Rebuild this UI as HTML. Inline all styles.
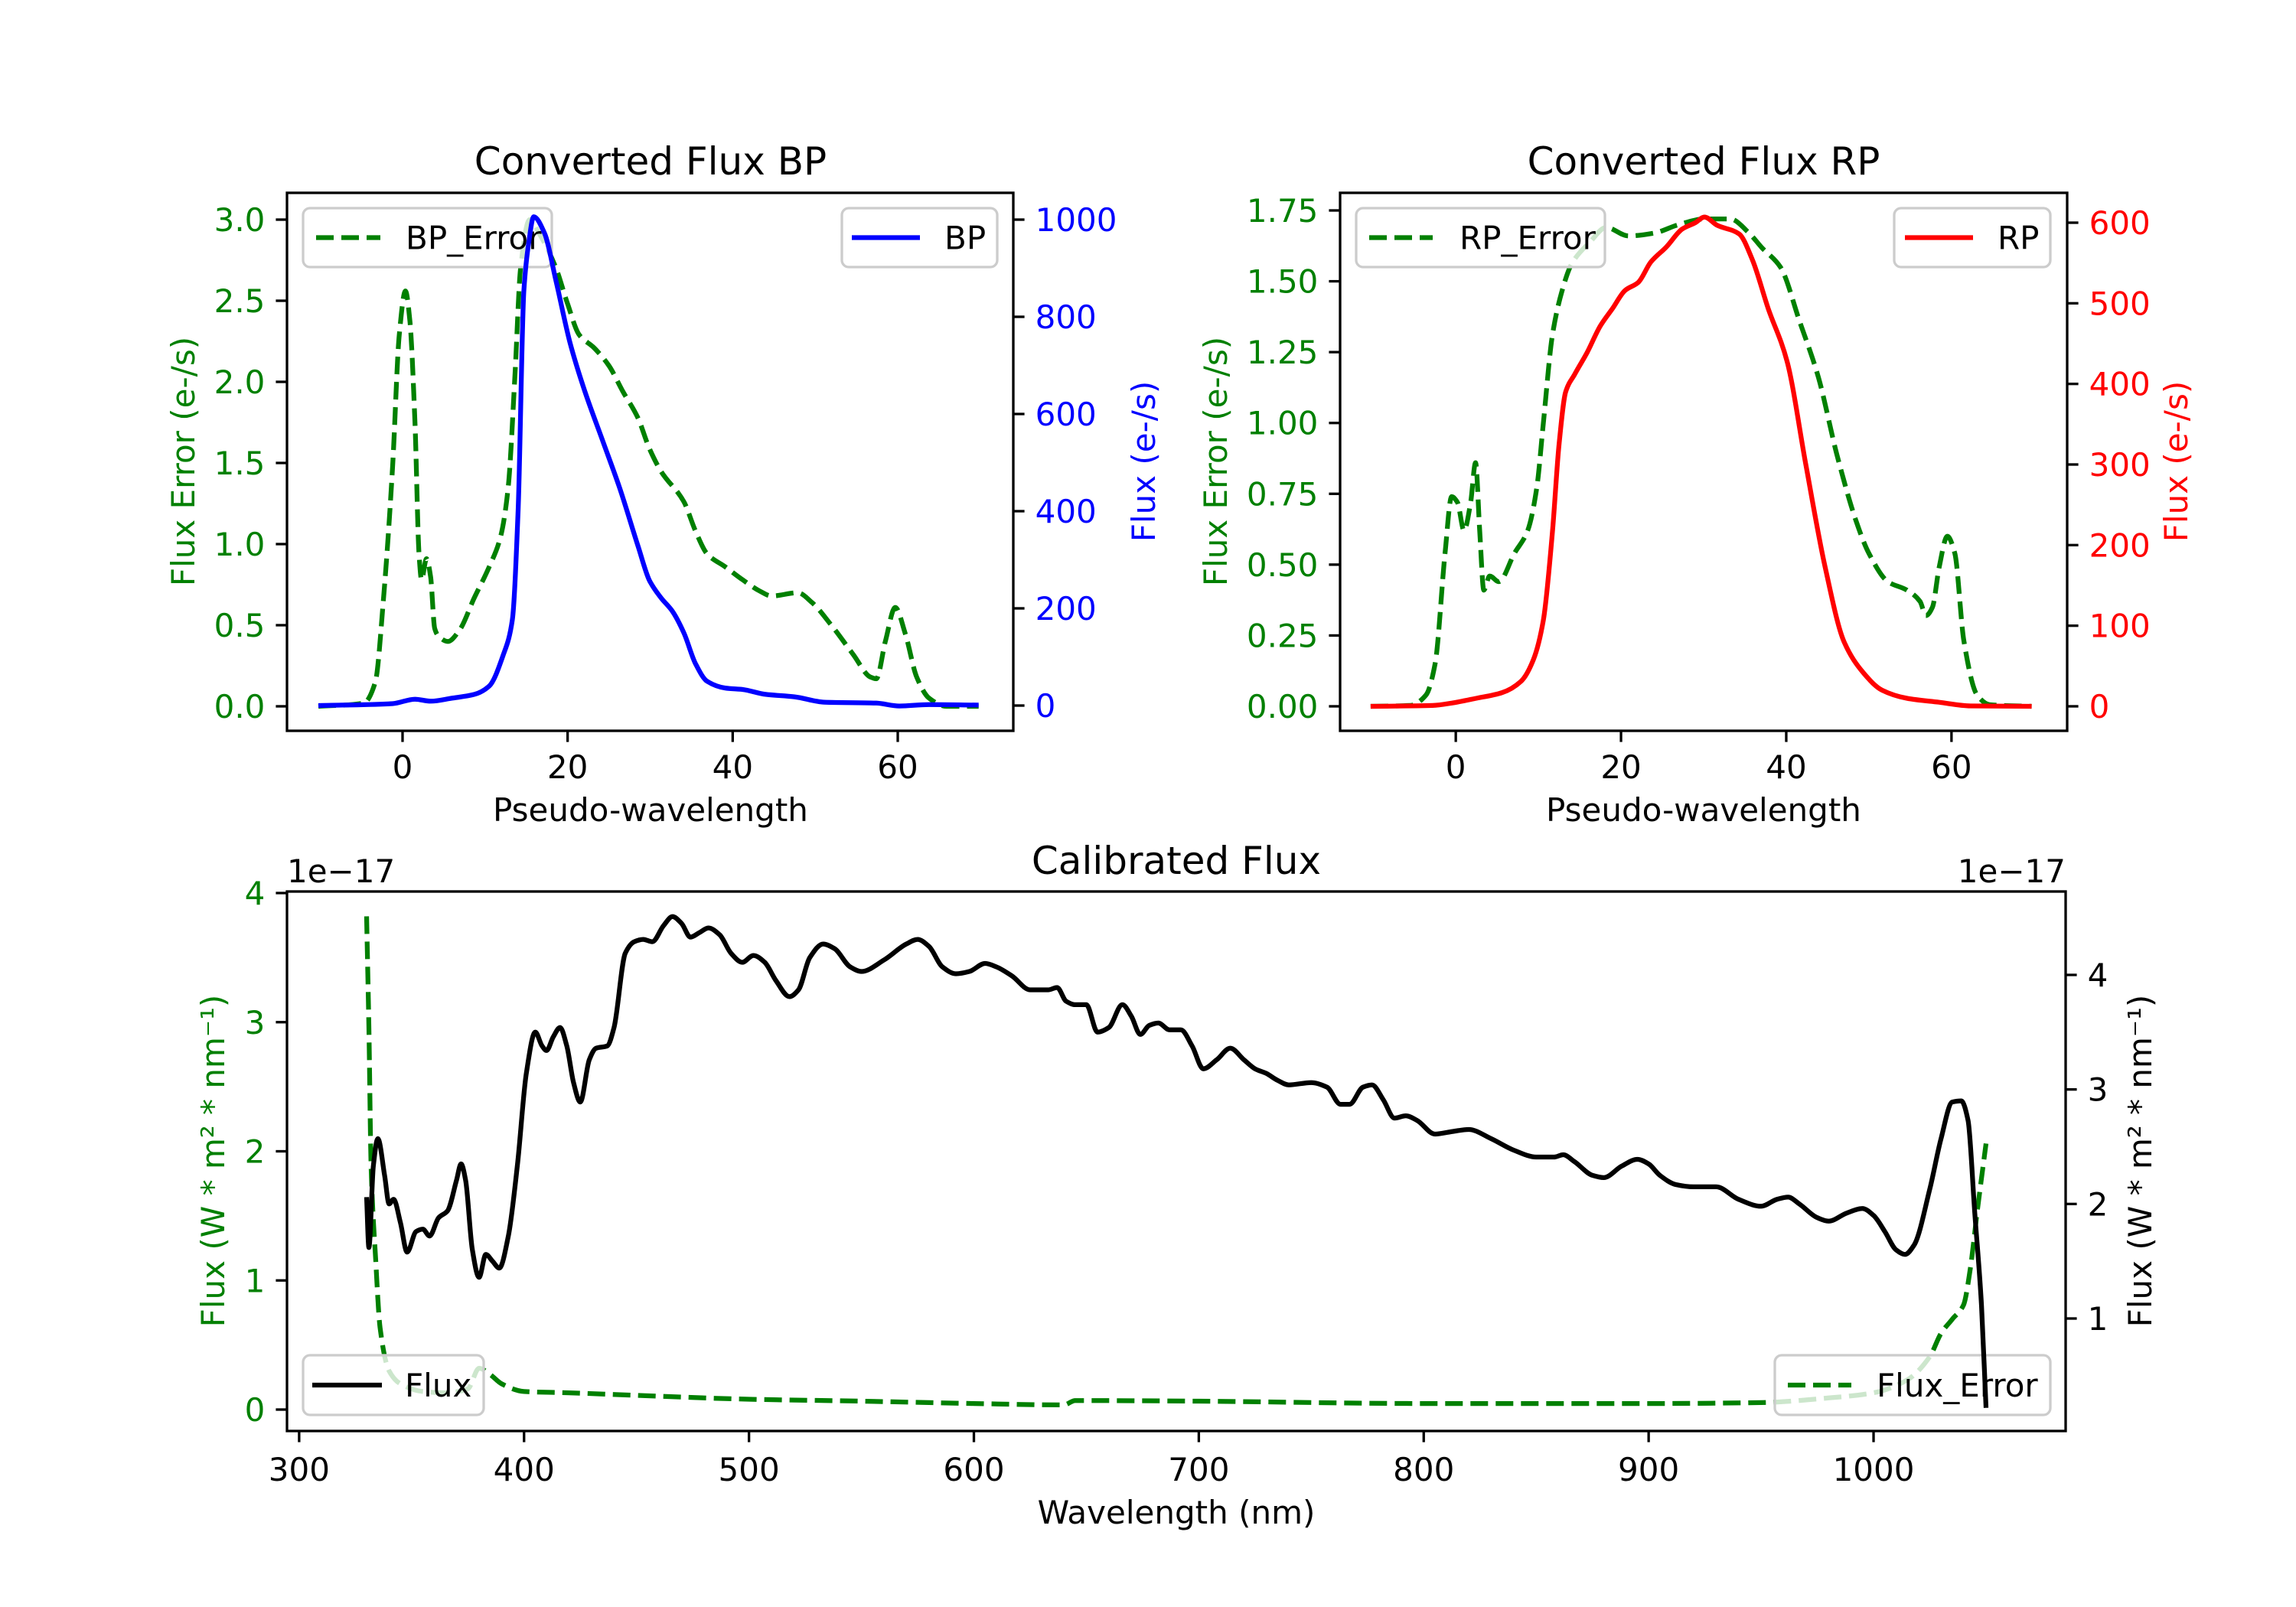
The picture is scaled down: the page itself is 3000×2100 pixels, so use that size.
<!DOCTYPE html>
<html><head><meta charset="utf-8"><style>
html,body{margin:0;padding:0;background:#fff;}
svg{display:block;font-family:"DejaVu Sans","Liberation Sans",sans-serif;}
</style></head><body>
<svg id="fig" width="3000" height="2100" viewBox="0 0 3000 2100" xmlns="http://www.w3.org/2000/svg">
<rect width="3000" height="2100" fill="#fff"/>
</svg>
<script>
// ---- BP panel data ----
const bpX = [-10.2,-1.2,1.5,3.4,5.9,8.7,10.5,12.2,13.3,14.0,14.7,15.3,15.9,17.2,18.6,20.3,22.1,24.2,26.3,28.5,29.9,31.3,32.7,34.1,35.5,36.9,39.1,41.2,44,47.5,51.1,57.4,60.2,63.8,69.8];
const bpFlux = [0,4,13,9,15,23,40,104,176,402,854,954,1006,972,873,746,646,547,448,330,258,222,194,149,86,50,36,33,23,18,7,5,-1,2,1];
const bpErrX = [-10.2,-4.7,-3.3,-2.3,-1.2,-0.4,0.35,0.9,1.5,2.0,2.3,2.9,3.4,3.9,4.4,5.5,6.9,8.7,10.5,11.9,12.8,13.6,14.3,15.4,16.5,18.6,20.0,21.4,23.2,25.0,26.7,28.5,29.9,31.3,34.1,35.5,36.9,39.1,41.2,43.3,44.7,47.9,49.6,51.8,54.6,56.7,57.4,58.5,59.7,60.9,62.3,63.8,65.9,69.8];
const bpErr = [0,0.02,0.15,0.67,1.48,2.29,2.56,2.37,1.75,0.94,0.78,0.91,0.80,0.48,0.43,0.40,0.47,0.67,0.86,1.05,1.35,2.02,2.70,3.0,2.92,2.70,2.48,2.29,2.21,2.10,1.94,1.78,1.59,1.45,1.26,1.08,0.94,0.86,0.78,0.71,0.68,0.70,0.64,0.51,0.32,0.18,0.17,0.40,0.61,0.45,0.18,0.05,0,0];
// ---- RP panel data ----
const rpX = [-10.3,-2.8,-0.5,2.5,5.6,7.9,9.4,10.6,11.7,12.5,13.3,14.4,15.9,17.5,19.0,20.5,22.1,23.6,25.5,27.4,29.0,30.1,31.6,34.3,35.9,37.8,40.1,42.4,44.7,47.0,49.3,51.6,54.6,58.5,62.3,69.7];
const rpFlux = [0,1,4,10,17,31,58,107,216,325,390,412,439,472,494,516,526,551,570,592,600,607,597,586,554,494,428,298,173,80,42,20,10,5,0.5,0];
const rpErrX = [-10.3,-5.5,-3.6,-2.5,-1.3,-0.5,0.2,1.0,1.8,2.4,2.9,3.4,4.1,5.2,7.1,8.7,9.8,10.6,11.7,12.9,14.0,16.3,18.2,20.9,24.0,27.0,30.1,33.2,35.5,37.0,39.3,41.6,43.9,46.2,48.5,50.0,52.3,54.6,56.2,56.9,57.7,58.5,59.5,60.4,61.5,63.1,64.6,69.7];
const rpErr = [0,0.003,0.04,0.15,0.54,0.74,0.72,0.62,0.72,0.86,0.62,0.41,0.46,0.44,0.54,0.62,0.77,1.0,1.31,1.47,1.56,1.64,1.69,1.66,1.67,1.70,1.72,1.72,1.67,1.62,1.55,1.36,1.16,0.88,0.65,0.54,0.44,0.41,0.37,0.32,0.35,0.49,0.60,0.54,0.23,0.04,0.006,0];
// ---- Calibrated panel data (units of 1e-17) ----
const calWl = [330,331,333,335,338,340,342,345,348,352,355,358,362,366,370,372,374,377,380,383,386,389,393,397,401,405,408,410,413,416,419,422,425,429,432,437,440,445,449,453,457,462,466,470,474,478,482,487,492,497,502,507,512,518,522,527,533,538,545,550,560,570,575,580,586,592,598,605,610,617,625,633,637,641,645,650,655,660,666,670,674,678,682,687,692,697,702,708,714,720,725,730,735,740,750,757,763,767,773,777,782,787,792,797,805,812,820,830,840,850,858,862,867,875,880,888,895,900,905,912,920,930,940,950,957,962,967,975,980,988,995,1000,1005,1010,1014,1018,1025,1030,1035,1039,1042,1045,1048,1050];
const calFlux = [2.06,1.62,2.33,2.57,2.25,2.00,2.04,1.84,1.58,1.76,1.78,1.72,1.88,1.94,2.21,2.35,2.21,1.60,1.36,1.56,1.50,1.44,1.72,2.33,3.14,3.50,3.38,3.34,3.46,3.54,3.38,3.06,2.89,3.26,3.36,3.38,3.54,4.19,4.29,4.31,4.29,4.43,4.51,4.45,4.33,4.37,4.41,4.35,4.19,4.11,4.17,4.11,3.95,3.81,3.87,4.15,4.27,4.23,4.07,4.03,4.13,4.27,4.31,4.25,4.07,4.01,4.03,4.10,4.07,3.99,3.87,3.87,3.89,3.77,3.74,3.74,3.50,3.54,3.74,3.64,3.48,3.56,3.58,3.52,3.52,3.38,3.18,3.26,3.36,3.26,3.18,3.14,3.08,3.04,3.06,3.02,2.87,2.87,3.02,3.04,2.91,2.75,2.77,2.73,2.61,2.63,2.65,2.57,2.47,2.41,2.41,2.43,2.37,2.25,2.23,2.33,2.39,2.35,2.25,2.17,2.15,2.15,2.04,1.98,2.04,2.06,2.00,1.88,1.85,1.92,1.96,1.90,1.76,1.60,1.56,1.64,2.13,2.57,2.89,2.90,2.73,1.92,1.11,0.22];
const errWl = [330,331,332,334,336,340,345,355,365,375,380,385,390,400,420,450,500,550,600,640,645,700,800,900,950,980,1000,1015,1025,1030,1035,1040,1043,1046,1050];
const calErr = [3.82,2.96,1.88,1.17,0.63,0.30,0.20,0.14,0.13,0.16,0.32,0.27,0.20,0.14,0.13,0.11,0.08,0.065,0.047,0.036,0.07,0.065,0.047,0.047,0.054,0.09,0.13,0.23,0.41,0.59,0.70,0.81,1.09,1.52,2.06];
// ---- tick labels ----
const bpXTicks = [0,20,40,60];
const bpErrTicks = ["0.0","0.5","1.0","1.5","2.0","2.5","3.0"];
const bpFluxTicks = [0,200,400,600,800,1000];
const rpErrTicks = ["0.00","0.25","0.50","0.75","1.00","1.25","1.50","1.75"];
const rpFluxTicks = [0,100,200,300,400,500,600];
const calXTicks = [300,400,500,600,700,800,900,1000];
const calErrTicks = [0,1,2,3,4];
const calFluxTicks = [1,2,3,4];

const NS = "http://www.w3.org/2000/svg";
const fig = document.getElementById('fig');
function el(tag, attrs, parent, text){
  const e = document.createElementNS(NS, tag);
  for (const k in attrs) e.setAttribute(k, attrs[k]);
  if (text !== undefined) e.textContent = text;
  (parent||fig).appendChild(e);
  return e;
}
function lin(d0,d1,p0,p1){ return v => p0 + (v-d0)*(p1-p0)/(d1-d0); }
const LW = 6.25, DASH = "23 10", TL = 14.6, TW = 3.3, FS = 42;

function panel(name, box){
  const g = el('g', {});
  
  
  const cp = name + '-clip';
  const c = el('clipPath', {id: cp}, g);
  el('rect', {x: box.l, y: box.t, width: box.r-box.l, height: box.b-box.t}, c);
  return {g, cp};
}
// monotone cubic (Fritsch-Carlson) path in pixel space
function smoothPath(px, py){
  const n = px.length;
  if (n < 3){ let d=''; for(let i=0;i<n;i++) d+=(i?'L':'M')+px[i]+','+py[i]; return d; }
  const dx=[], s=[];
  for (let i=0;i<n-1;i++){ dx.push(px[i+1]-px[i]); s.push((py[i+1]-py[i])/(px[i+1]-px[i]||1e-9)); }
  const m=new Array(n);
  m[0]=s[0]; m[n-1]=s[n-2];
  for (let i=1;i<n-1;i++){
    if (s[i-1]*s[i] <= 0) m[i]=0;
    else { const w1=2*dx[i]+dx[i-1], w2=dx[i]+2*dx[i-1]; m[i]=(w1+w2)/(w1/s[i-1]+w2/s[i]); }
  }
  let d='M'+px[0].toFixed(1)+','+py[0].toFixed(1);
  for (let i=0;i<n-1;i++){
    const h=dx[i]/3;
    d+='C'+(px[i]+h).toFixed(1)+','+(py[i]+m[i]*h).toFixed(1)+' '+(px[i+1]-h).toFixed(1)+','+(py[i+1]-m[i+1]*h).toFixed(1)+' '+px[i+1].toFixed(1)+','+py[i+1].toFixed(1);
  }
  return d;
}
function line(parent, cp, xs, ys, sx, sy, color, dashed, nm){
  const d = smoothPath(xs.map(sx), ys.map(sy));
  const p = el('path', {d, fill:'none', stroke:color, 'stroke-width':LW, 'stroke-linejoin':'round', 'clip-path':'url(#'+cp+')'}, parent);
  if (dashed) p.setAttribute('stroke-dasharray', DASH);
  
  
}
function legend(parent, x0, y0, x1, y1, lx0, lx1, tx, label, color, dashed, nm){
  const g = el('g', {}, parent);
  
  
  el('rect', {x:x0, y:y0, width:x1-x0, height:y1-y0, rx:9, fill:'#fff', 'fill-opacity':0.8, stroke:'#cccccc', 'stroke-width':3.3}, g);
  const cy = (y0+y1)/2;
  const l = el('line', {x1:lx0, x2:lx1, y1:cy, y2:cy, stroke:color, 'stroke-width':LW}, g);
  if (dashed) l.setAttribute('stroke-dasharray', DASH);
  el('text', {x:tx, y:cy+15, 'font-size':FS, fill:'#000'}, g, label);
}
function xticks(parent, box, sx, vals, labels, y){
  vals.forEach((v,i)=>{
    const x = sx(v);
    el('line', {x1:x, x2:x, y1:box.b, y2:box.b+TL, stroke:'#000', 'stroke-width':TW}, parent);
    const t = el('text', {x, y:y, 'font-size':FS, 'text-anchor':'middle', fill:'#000'}, parent, labels[i]);
    
    
  });
}
function yticks(parent, box, sy, vals, labels, side, color){
  vals.forEach((v,i)=>{
    const y = sy(v);
    if (side==='l'){
      el('line', {x1:box.l-TL, x2:box.l, y1:y, y2:y, stroke:'#000', 'stroke-width':TW}, parent);
      const t = el('text', {x:box.l-TL-14, y:y+15, 'font-size':FS, 'text-anchor':'end', fill:color}, parent, labels[i]);
      
      
    } else {
      el('line', {x1:box.r, x2:box.r+TL, y1:y, y2:y, stroke:'#000', 'stroke-width':TW}, parent);
      const t = el('text', {x:box.r+TL+14, y:y+15, 'font-size':FS, 'text-anchor':'start', fill:color}, parent, labels[i]);
      
      
    }
  });
}
function frame(parent, box){
  el('rect', {x:box.l, y:box.t, width:box.r-box.l, height:box.b-box.t, fill:'none', stroke:'#000', 'stroke-width':3.3}, parent);
}
function vlabel(parent, x, y, txt, color, nm){
  const t = el('text', {x, y, 'font-size':FS, 'text-anchor':'middle', fill:color, transform:'rotate(-90 '+x+' '+y+')'}, parent, txt);
  
  
}
function title(parent, x, y, txt, nm, fs){
  const t = el('text', {x, y, 'font-size':fs||50, 'text-anchor':'middle', fill:'#000'}, parent, txt);
  
  
}

// ===== BP =====
{
  const box = {l:375, r:1324, t:252, b:955};
  const sx = lin(-14, 74, box.l, box.r);
  const sL = lin(0, 3, 923, 287);
  const sR = lin(0, 1000, 922, 287);
  const {g, cp} = panel('bp-panel', box);
  line(g, cp, bpErrX, bpErr, sx, sL, '#008000', true, 'bp-error-line');
  legend(g, 396, 272, 721, 349, 413, 497, 530, 'BP_Error', '#008000', true, 'bp-error-legend');
  line(g, cp, bpX, bpFlux, sx, sR, '#0000ff', false, 'bp-flux-line');
  legend(g, 1100, 272, 1303, 349, 1113, 1202, 1234, 'BP', '#0000ff', false, 'bp-legend');
  frame(g, box);
  xticks(g, box, sx, bpXTicks, bpXTicks.map(String), 1017);
  yticks(g, box, sL, bpErrTicks.map(Number), bpErrTicks, 'l', '#008000');
  yticks(g, box, sR, bpFluxTicks, bpFluxTicks.map(String), 'r', '#0000ff');
  title(g, 850, 228, 'Converted Flux BP', 'bp-title');
  title(g, 850, 1073, 'Pseudo-wavelength', 'bp-x-axis-title', FS);
  vlabel(g, 254, 603, 'Flux Error (e-/s)', '#008000', 'bp-left-y-axis-title');
  vlabel(g, 1509, 603, 'Flux (e-/s)', '#0000ff', 'bp-right-y-axis-title');
}
// ===== RP =====
{
  const box = {l:1751, r:2701, t:252, b:955};
  const sx = lin(-14, 74, box.l, box.r);
  const sL = lin(0, 1.75, 923, 275);
  const sR = lin(0, 600, 923, 291);
  const {g, cp} = panel('rp-panel', box);
  line(g, cp, rpErrX, rpErr, sx, sL, '#008000', true, 'rp-error-line');
  legend(g, 1772, 272, 2097, 349, 1789, 1872, 1907, 'RP_Error', '#008000', true, 'rp-error-legend');
  line(g, cp, rpX, rpFlux, sx, sR, '#ff0000', false, 'rp-flux-line');
  legend(g, 2475, 272, 2679, 349, 2489, 2578, 2610, 'RP', '#ff0000', false, 'rp-legend');
  frame(g, box);
  xticks(g, box, sx, bpXTicks, bpXTicks.map(String), 1017);
  yticks(g, box, sL, rpErrTicks.map(Number), rpErrTicks, 'l', '#008000');
  yticks(g, box, sR, rpFluxTicks, rpFluxTicks.map(String), 'r', '#ff0000');
  title(g, 2226, 228, 'Converted Flux RP', 'rp-title');
  title(g, 2226, 1073, 'Pseudo-wavelength', 'rp-x-axis-title', FS);
  vlabel(g, 1603, 603, 'Flux Error (e-/s)', '#008000', 'rp-left-y-axis-title');
  vlabel(g, 2858, 603, 'Flux (e-/s)', '#ff0000', 'rp-right-y-axis-title');
}
// ===== Calibrated =====
{
  const box = {l:375, r:2699, t:1165, b:1870};
  const sx = lin(294.6, 1085.4, box.l, box.r);
  const sL = lin(0, 4, 1842, 1167);
  const sR = lin(1, 4, 1723, 1274);
  const {g, cp} = panel('calibrated-panel', box);
  line(g, cp, errWl, calErr, sx, sL, '#008000', true, 'calibrated-error-line');
  legend(g, 2319, 1771, 2679, 1849, 2336, 2419, 2452, 'Flux_Error', '#008000', true, 'flux-error-legend');
  line(g, cp, calWl, calFlux, sx, sR, '#000000', false, 'calibrated-flux-line');
  legend(g, 396, 1771, 632, 1849, 408, 499, 529, 'Flux', '#000000', false, 'flux-legend');
  frame(g, box);
  xticks(g, box, sx, calXTicks, calXTicks.map(String), 1935);
  yticks(g, box, sL, calErrTicks, calErrTicks.map(String), 'l', '#008000');
  yticks(g, box, sR, calFluxTicks, calFluxTicks.map(String), 'r', '#000000');
  title(g, 1537, 1142, 'Calibrated Flux', 'calibrated-title');
  title(g, 1537, 1991, 'Wavelength (nm)', 'calibrated-x-axis-title', FS);
  const o1 = el('text', {x:375, y:1153, 'font-size':FS, fill:'#000'}, g, '1e\u221217');
  
  
  const o2 = el('text', {x:2699, y:1153, 'font-size':FS, fill:'#000', 'text-anchor':'end'}, g, '1e\u221217');
  
  
  vlabel(g, 293, 1517, 'Flux (W * m\u00b2 * nm\u207b\u00b9)', '#008000', 'calibrated-left-y-axis-title');
  vlabel(g, 2811, 1517, 'Flux (W * m\u00b2 * nm\u207b\u00b9)', '#000000', 'calibrated-right-y-axis-title');
}
</script>
</body></html>
